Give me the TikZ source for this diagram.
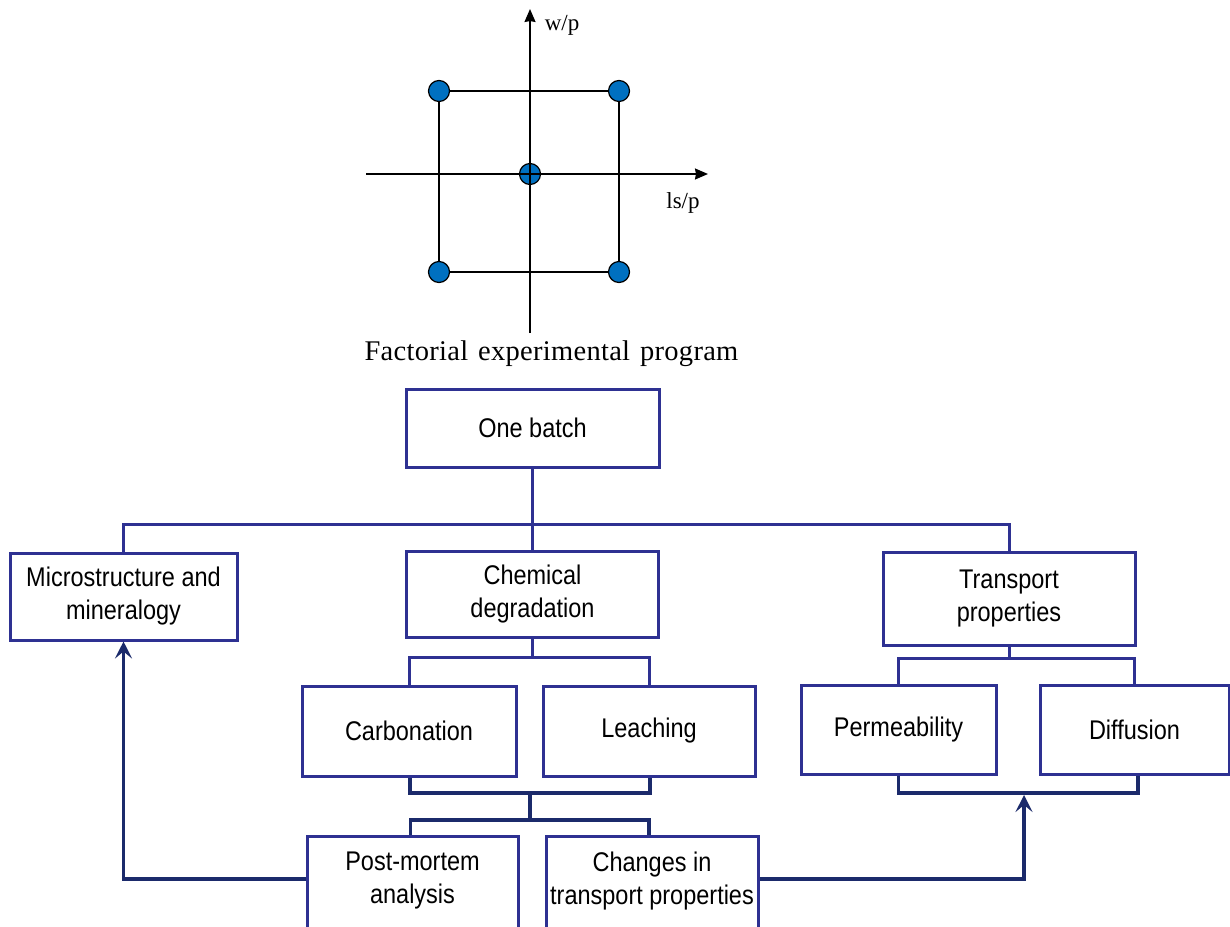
\documentclass[tikz,border=0pt]{standalone}
\usepackage{fontspec}
\setmainfont{Liberation Serif}
\newfontfamily\arialn[FakeStretch=0.87]{Liberation Sans}
\newfontfamily\capfont[LetterSpace=1]{Liberation Serif}
\usetikzlibrary{arrows.meta}
\definecolor{boxblue}{HTML}{2E3192}
\definecolor{navy}{HTML}{1B2A6B}
\definecolor{dotblue}{HTML}{0070C0}
\begin{document}
\begin{tikzpicture}[x=1pt,y=-1pt,
  box/.style={draw=boxblue, line width=3pt, fill=white, align=center,
    font=\arialn\fontsize{27}{33}\selectfont, inner sep=0pt},
  btext/.style={align=center, font=\arialn\fontsize{27}{33}\selectfont, inner sep=0pt},
  tree/.style={draw=boxblue, line width=3pt},
  brk/.style={draw=navy, line width=3.5pt},
  arr/.style={draw=navy, line width=3.5pt, -{Stealth[length=17pt,width=17pt,inset=7pt]}},
  axis/.style={draw=black, line width=1.6pt, -{Stealth[length=13pt,width=11pt,inset=1pt]}},
  sq/.style={draw=black, line width=1.6pt},
  dot/.style={circle, draw=black, line width=1.2pt, fill=dotblue, minimum size=21pt, inner sep=0pt},
  lab/.style={font=\fontsize{23}{27}\selectfont, inner sep=0pt}
]
\useasboundingbox[fill=white] (0,0) rectangle (1230,926);

% ---------- factorial plot ----------
\coordinate (xl) at (366,174);
\coordinate (xr) at (708,174);
\coordinate (yb) at (530,333);
\coordinate (yt) at (530,9);
\draw[axis] (xl) -- (xr);
\draw[axis] (yb) -- (yt);
\node[dot] (tl) at (439,91) {};
\node[dot] (tr) at (619,91) {};
\node[dot] (bl) at (439,272) {};
\node[dot] (br) at (619,272) {};
\draw[sq] (tl) -- (tr) -- (br) -- (bl) -- (tl);
\node[dot] (cc) at (530,174) {};
\draw[line width=1.2pt] (cc.west) -- (cc.east) (cc.north) -- (cc.south);
\node[lab] (wp) at (562,25) {w/p};
\node[lab] (lsp) at (683,203) {ls/p};
\node[font=\capfont\fontsize{28.5}{33}\selectfont, inner sep=0pt] (cap) at (551.5,354)
  {Factorial\hspace{10pt}experimental\hspace{10pt}program};

% ---------- boxes ----------
\node[box, minimum width=253pt, minimum height=78pt] (batch) at (532.5,428) {One batch};
\node[box, minimum width=227pt, minimum height=87pt] (micro) at (123.5,596.5) {Microstructure and\\mineralogy};
\node[box, minimum width=252pt, minimum height=86pt] (chem) at (532.5,594.5) {Chemical\\degradation};
\node[box, minimum width=252pt, minimum height=93pt] (trans) at (1009,599) {Transport\\properties};
\node[box, minimum width=214pt, minimum height=90pt] (carb) at (409,731) {Carbonation};
\node[box, minimum width=212pt, minimum height=90pt] (leach) at (649,731) {Leaching};
\node[box, minimum width=195pt, minimum height=89pt] (perm) at (898.5,729.5) {Permeability};
\node[box, minimum width=189pt, minimum height=89pt] (diff) at (1134.5,729.5) {Diffusion};
\node[box, minimum width=211pt, minimum height=104pt] (pm) at (412.5,888) {};
\node[box, minimum width=212pt, minimum height=104pt] (chg) at (652,888) {};
\node[btext] (pmt) at (412.5,880) {Post-mortem\\analysis};
\node[btext] (chgt) at (652,881) {Changes in\\transport properties};

% ---------- tree connectors ----------
\coordinate (bus) at (532.5,524);
\draw[tree] (batch.south) -- (chem.north);
\draw[tree] (micro.north) |- (bus) -| (trans.north);
\coordinate (cbus) at (532.5,657);
\draw[tree] (chem.south) -- (cbus);
\draw[tree] (carb.north) |- (cbus) -| (leach.north);
\coordinate (tbus) at (1009,658);
\draw[tree] (trans.south) -- (tbus);
\draw[tree] (perm.north) |- (tbus) -| (diff.north);

% ---------- brackets ----------
\coordinate (cl) at (530,793);
\coordinate (cm) at (530,820);
\draw[brk] ([xshift=1pt]carb.south) |- (cl) -| ([xshift=1pt]leach.south);
\draw[brk] (cl) -- (cm);
\draw[brk] ([xshift=-2pt]pm.north) |- (cm) -| ([xshift=-3pt]chg.north);
\coordinate (pl) at (1024,793);
\draw[brk] (perm.south) |- (pl) -| ([xshift=3.5pt]diff.south);

% ---------- feedback arrows ----------
\coordinate (parr) at (1024,795);
\draw[arr] ([yshift=9pt]chg.east) -| (parr);
\draw[arr] ([yshift=9pt]pm.west) -| (micro.south);
\end{tikzpicture}
\end{document}
